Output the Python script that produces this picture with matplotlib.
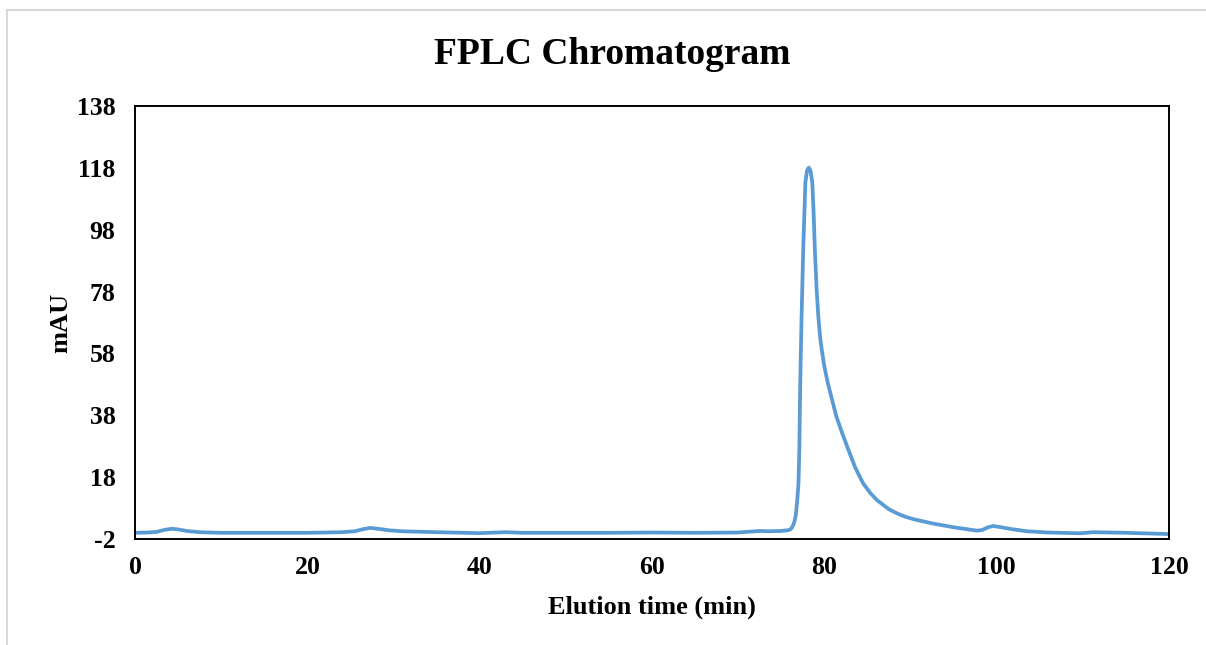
import matplotlib.pyplot as plt
import matplotlib.patches as patches

# elution time (min) and absorbance (mAU)
time = [0, 1.5, 2.5, 3.5, 4.3, 5.0, 6.0, 7.5, 10, 15, 20, 24, 25.5, 26.5,
        27.3, 28.2, 29.5, 31, 35, 40, 41, 43, 45, 50, 55, 60, 65, 70, 72,
        72.5, 73.5, 75, 75.7, 76.0, 76.2, 76.4, 76.55, 76.7, 76.86, 77.0,
        77.1, 77.2, 77.36, 77.55, 77.8, 78.0, 78.2, 78.4, 78.6, 78.75, 78.9,
        79.1, 79.3, 79.5, 79.7, 80.0, 80.4, 80.9, 81.4, 82.1, 82.8, 83.6,
        84.5, 85.3, 86.1, 87.5, 88.5, 89.5, 90.5, 92.6, 95, 97.7, 98.3, 99.0,
        99.6, 100.3, 101.5, 103.5, 106, 109.7, 111.2, 115, 120]
mau = [0.0, 0.1, 0.3, 1.0, 1.3, 1.1, 0.6, 0.2, 0.0, 0.0, 0.0, 0.2, 0.5, 1.2,
       1.6, 1.3, 0.8, 0.5, 0.2, -0.1, 0.0, 0.2, 0.0, 0.0, 0.0, 0.1, 0.0, 0.1,
       0.5, 0.6, 0.5, 0.6, 0.8, 1.0, 1.5, 2.6, 3.8, 6.0, 10.6, 16.0, 27.0,
       48.0, 70.0, 91.6, 113.3, 117.2, 118.1, 117.0, 113.3, 104.0, 91.6,
       79.0, 70.0, 63.5, 59.2, 53.8, 48.5, 43.0, 37.6, 32.0, 26.8, 21.0,
       16.0, 13.0, 10.6, 7.6, 6.2, 5.1, 4.3, 3.0, 1.8, 0.7, 0.9, 1.8, 2.2,
       1.9, 1.3, 0.5, 0.1, -0.15, 0.2, 0.0, -0.4]

xticks = [0, 20, 40, 60, 80, 100, 120]
yticks = [-2, 18, 38, 58, 78, 98, 118, 138]

plt.rcParams['font.family'] = ['Liberation Serif', 'DejaVu Serif']
plt.rcParams['font.weight'] = 'bold'
plt.rcParams['axes.unicode_minus'] = False

fig = plt.figure(figsize=(12.06, 6.45), dpi=100)
ax = fig.add_axes([135/1206, 1 - 539/645, (1169-135)/1206, (539-106)/645])

ax.plot(time, mau, color='#5B9BD5', linewidth=2.7, solid_joinstyle='round',
        solid_capstyle='round')

ax.set_xlim(0, 120)
ax.set_ylim(-2, 138)
ax.set_xticks(xticks)
ax.set_yticks(yticks)
ax.tick_params(length=0, labelsize=18.5)
ax.tick_params(axis='y', pad=14)
ax.tick_params(axis='x', pad=12)
for lab in ax.get_xticklabels() + ax.get_yticklabels():
    lab.set_fontweight('bold')
for s in ax.spines.values():
    s.set_linewidth(1.4)
    s.set_color('black')

ax.set_xlabel('Elution time (min)', fontsize=19, fontweight='bold', labelpad=12)
ax.set_ylabel('mAU', fontsize=19, fontweight='bold', labelpad=3)
fig.text(612/1206, 1 - 54/645, 'FPLC Chromatogram', fontsize=27,
         fontweight='bold', ha='center', va='center')

# light chart frame (top and left edges visible)
fig.patches.append(patches.Rectangle((7/1206, -0.1), 1.2, 1 - 10/645 + 0.1,
                                     transform=fig.transFigure, fill=False,
                                     edgecolor='#d9d9d9', linewidth=1.5))

fig.savefig('out.png', dpi=100)
